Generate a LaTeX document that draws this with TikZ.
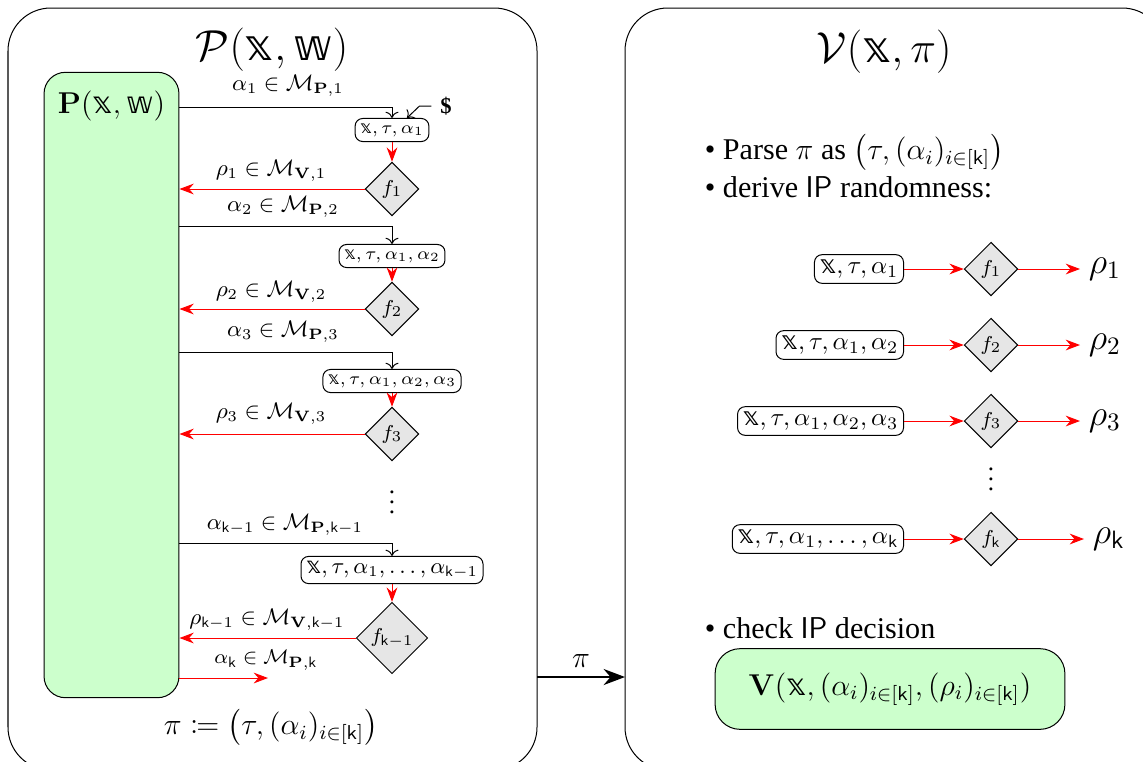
\documentclass[tikz,border=0pt]{standalone}
\usepackage{amsmath}
\usepackage{amssymb}
\usepackage{mathtools}
\usepackage[no-math]{fontspec}
\setmainfont{Liberation Serif}
\newfontfamily\dsfamily{DejaVu Sans}
\usepackage{tikz}
\usetikzlibrary{arrows.meta, positioning, shapes.geometric}
\definecolor{partycolor}{RGB}{204,255,204}
\definecolor{oraclecolor}{RGB}{230,230,230}
\newcommand{\xx}{\text{\dsfamily 𝕩}}
\newcommand{\ww}{\text{\dsfamily 𝕨}}
\newcommand{\kk}{\mathsf{k}}

\begin{document}
\begin{tikzpicture}[
    x=0.014cm, y=-0.014cm,
    frame/.style={draw, rounded corners=0.6cm},
    party/.style={draw, rounded corners=0.3cm, fill=partycolor},
    msgbox/.style={draw, rounded corners=3pt, inner sep=2pt, font=\scriptsize},
    oracle/.style={draw, diamond, aspect=1, fill=oraclecolor, inner sep=0pt, minimum size=0.75cm, font=\footnotesize},
    query/.style={-{Stealth[length=2mm]}, red},
    msg/.style={->},
    every node/.style={font=\small},
]
    \clip (0,0) rectangle (1143,761);

    % Prover side
    \draw[frame] (8,8) rectangle (537,770);
    \node[font=\LARGE] (ptitle) at (272,50) {$\mathcal{P}(\xx,\ww)$};
    \node[party, minimum width=1.89cm, minimum height=8.76cm] (prover) at (111.5,385) {};
    \node[font=\large, below=0.15cm of prover.north] (plabel) {$\mathbf{P}(\xx,\ww)$};

    % Round 1
    \node[msgbox] (in1) at (392,130) {$\xx,\tau,\alpha_1$};
    \node[oracle] (f1) at (392,189) {$f_1$};
    \node (coins) at (446,106) {\textbf{\$}};
    \coordinate (p1) at (179,107);
    \node (a1) at (288,86) {$\alpha_1 \in \mathcal{M}_{\mathbf{P},1}$};
    \node (r1) at (271,171) {$\rho_1 \in \mathcal{M}_{\mathbf{V},1}$};
    \draw[msg] (p1) -| (in1.north);
    \draw[msg] (coins.west) -- ++(-12,0) -- ([xshift=0.21cm]in1.north);
    \draw[query] (in1) -- (f1);
    \draw[query] (f1.west) -- (f1.west -| prover.east);

    % Round 2
    \node[msgbox] (in2) at (392,256) {$\xx,\tau,\alpha_1,\alpha_2$};
    \node[oracle] (f2) at (392,309) {$f_2$};
    \coordinate (p2) at (179,226);
    \node (a2) at (283,207) {$\alpha_2 \in \mathcal{M}_{\mathbf{P},2}$};
    \node (r2) at (271,292) {$\rho_2 \in \mathcal{M}_{\mathbf{V},2}$};
    \draw[msg] (p2) -| (in2.north);
    \draw[query] (in2) -- (f2);
    \draw[query] (f2.west) -- (f2.west -| prover.east);

    % Round 3
    \node[msgbox] (in3) at (392,381) {$\xx,\tau,\alpha_1,\alpha_2,\alpha_3$};
    \node[oracle] (f3) at (392,434) {$f_3$};
    \coordinate (p3) at (179,352);
    \node (a3) at (283,332) {$\alpha_3 \in \mathcal{M}_{\mathbf{P},3}$};
    \node (r3) at (271,414) {$\rho_3 \in \mathcal{M}_{\mathbf{V},3}$};
    \draw[msg] (p3) -| (in3.north);
    \draw[query] (in3) -- (f3);
    \draw[query] (f3.west) -- (f3.west -| prover.east);

    \node[inner sep=0pt, font=\normalsize] (ldots) at (392,495) {$\vdots$};

    % Round k-1
    \node[msgbox, font=\small] (ink) at (392,570) {$\xx,\tau,\alpha_1,\dots,\alpha_{\kk-1}$};
    \node[oracle, minimum size=1cm] (fk) at (392,638) {$f_{\kk-1}$};
    \coordinate (pk) at (179,543);
    \node (ak) at (285,525) {$\alpha_{\kk-1} \in \mathcal{M}_{\mathbf{P},\kk-1}$};
    \node (rk) at (267,620) {$\rho_{\kk-1} \in \mathcal{M}_{\mathbf{V},\kk-1}$};
    \draw[msg] (pk) -| (ink.north);
    \draw[query] (ink) -- (fk);
    \draw[query] (fk.west) -- (fk.west -| prover.east);

    % Last message
    \coordinate (plast) at (179,678);
    \coordinate (last) at (268,678);
    \node[font=\footnotesize] (alast) at (266,660) {$\alpha_{\kk} \in \mathcal{M}_{\mathbf{P},\kk}$};
    \draw[query] (plast) -- (last);

    \node[font=\large] (pidef) at (271,727) {$\pi \coloneqq \bigl(\tau,(\alpha_i)_{i\in[\kk]}\bigr)$};

    % Proof sent to verifier
    \coordinate (pout) at (537,677);
    \coordinate (vin) at (625,677);
    \draw[-{Stealth[length=3mm]}, thick] (pout) -- node[above, font=\large] (pilabel) {$\pi$} (vin);

    % Verifier side
    \draw[frame] (625,8) rectangle (1165,770);
    \node[font=\LARGE] (vtitle) at (884,52) {$\mathcal{V}(\xx,\pi)$};
    \node[font=\large, anchor=west] (parse) at (696,152) {\textbullet\ Parse $\pi$ as $\bigl(\tau,(\alpha_i)_{i\in[\kk]}\bigr)$};
    \node[font=\large, anchor=west] (derive) at (696,187) {\textbullet\ derive \textsf{IP} randomness:};

    \node[msgbox, font=\normalsize, anchor=east] (v1) at (904,269) {$\xx,\tau,\alpha_1$};
    \node[oracle] (g1) at (991,269) {$f_1$};
    \node[font=\Large, anchor=west] (rho1) at (1080,269) {$\rho_1$};
    \draw[query] (v1) -- (g1);
    \draw[query] (g1) -- (rho1);

    \node[msgbox, font=\normalsize, anchor=east] (v2) at (904,345) {$\xx,\tau,\alpha_1,\alpha_2$};
    \node[oracle] (g2) at (991,345) {$f_2$};
    \node[font=\Large, anchor=west] (rho2) at (1080,345) {$\rho_2$};
    \draw[query] (v2) -- (g2);
    \draw[query] (g2) -- (rho2);

    \node[msgbox, font=\normalsize, anchor=east] (v3) at (904,421) {$\xx,\tau,\alpha_1,\alpha_2,\alpha_3$};
    \node[oracle] (g3) at (991,421) {$f_3$};
    \node[font=\Large, anchor=west] (rho3) at (1080,421) {$\rho_3$};
    \draw[query] (v3) -- (g3);
    \draw[query] (g3) -- (rho3);

    \node[inner sep=0pt, font=\normalsize] (rdots) at (991,472) {$\vdots$};

    \node[msgbox, font=\normalsize, anchor=east] (vk) at (904,539) {$\xx,\tau,\alpha_1,\dots,\alpha_{\kk}$};
    \node[oracle] (gk) at (991,539) {$f_{\kk}$};
    \node[font=\Large, anchor=west] (rhok) at (1084,539) {$\rho_{\kk}$};
    \draw[query] (vk) -- (gk);
    \draw[query] (gk) -- (rhok);

    % Decision
    \node[font=\large, anchor=west] (check) at (696,628) {\textbullet\ check \textsf{IP} decision};
    \node[party, rounded corners=0.35cm, minimum width=4.9cm, minimum height=1.13cm, font=\large] (verdict) at (890,689) {$\mathbf{V}(\xx,(\alpha_i)_{i\in[\kk]},(\rho_i)_{i\in[\kk]})$};
\end{tikzpicture}
\end{document}
